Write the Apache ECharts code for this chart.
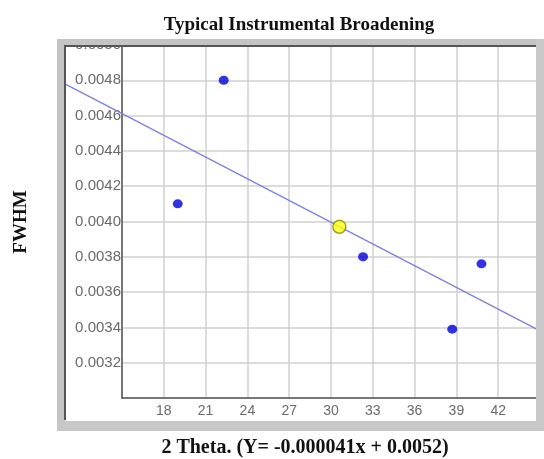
<!DOCTYPE html>
<html>
<head>
<meta charset="utf-8">
<script src="https://cdn.jsdelivr.net/npm/echarts@6/dist/echarts.min.js"></script>
<style>html,body{margin:0;padding:0;background:#fff;}#c{width:544px;height:459px;}</style>
</head>
<body>
<div id="c"></div>
<script>
// Data
const pointX = [19.0, 22.3, 32.3, 38.7, 40.8];
const pointY = [0.00410, 0.00480, 0.00380, 0.00339, 0.00376];
const meanX = [30.6];
const meanY = [0.00397];
const trendX = [10.9, 45];
const trendY = [0.00478, 0.00338];
const xTicks = { min: 15, max: 45, step: 3 };
const yTicks = { min: 0.0030, max: 0.0050, step: 0.0002 };
const titleText = 'Typical Instrumental Broadening';
const xName = '2 Theta. (Y= -0.000041x + 0.0052)';
const yName = 'FWHM';

const chart = echarts.init(document.getElementById('c'), null, { renderer: 'canvas' });
const serif = '"Liberation Serif", "Times New Roman", serif';
const sans = '"Liberation Sans", Arial, sans-serif';

const option = {
  backgroundColor: '#ffffff',
  animation: false,
  grid: { left: 122, right: 4, top: 45, bottom: 61, containLabel: false },
  xAxis: {
    type: 'value', min: xTicks.min, max: xTicks.max, interval: xTicks.step,
    axisLine: { show: true, onZero: false, lineStyle: { color: '#555', width: 1.5 } },
    axisTick: { show: false },
    axisLabel: { showMinLabel: false, showMaxLabel: false, color: '#6a6a6a', fontFamily: sans, fontSize: 14, margin: 6 },
    splitLine: { show: true, lineStyle: { color: '#d0d0d0', width: 1.5 } }
  },
  yAxis: {
    type: 'value', min: yTicks.min, max: yTicks.max, interval: yTicks.step,
    axisLine: { show: true, onZero: false, lineStyle: { color: '#555', width: 1.5 } },
    axisTick: { show: false },
    axisLabel: { showMinLabel: false, showMaxLabel: true, color: '#6a6a6a', fontFamily: sans, fontSize: 15, margin: 1,
      formatter: v => v.toFixed(4) },
    splitLine: { show: true, lineStyle: { color: '#d0d0d0', width: 1.5 } }
  },
  series: [
    {
      type: 'custom', clip: false, silent: true, z: 3,
      data: [[trendX[0], trendY[0], trendX[1], trendY[1]]],
      renderItem: (params, api) => {
        const p1 = api.coord([api.value(0), api.value(1)]);
        const p2 = api.coord([api.value(2), api.value(3)]);
        return { type: 'line', shape: { x1: p1[0], y1: p1[1], x2: p2[0], y2: p2[1] },
          style: { stroke: '#7f7fe0', lineWidth: 1.3 } };
      }
    },
    {
      type: 'scatter', data: pointX.map((x, i) => [x, pointY[i]]), symbol: 'circle', symbolSize: [10, 9],
      itemStyle: { color: '#0000e0' }, z: 4
    },
    {
      type: 'scatter', data: meanX.map((x, i) => [x, meanY[i]]), symbol: 'circle', symbolSize: 13,
      itemStyle: { color: '#ffff10', borderColor: '#8a8a00', borderWidth: 1.5 }, z: 5
    }
  ],
  graphic: [
    { type: 'rect', z: 100, shape: { x: 57, y: 39, width: 487, height: 7 }, style: { fill: '#c4c4c4' } },
    { type: 'rect', z: 100, shape: { x: 57, y: 39, width: 8, height: 392 }, style: { fill: '#c4c4c4' } },
    { type: 'rect', z: 100, shape: { x: 536, y: 39, width: 8, height: 392 }, style: { fill: '#c8c8c8' } },
    { type: 'rect', z: 100, shape: { x: 57, y: 421, width: 487, height: 10 }, style: { fill: '#c8c8c8' } },
    { type: 'line', z: 101, shape: { x1: 64, y1: 46, x2: 536, y2: 46 }, style: { stroke: '#555', lineWidth: 2 } },
    { type: 'line', z: 101, shape: { x1: 65, y1: 46, x2: 65, y2: 420 }, style: { stroke: '#555', lineWidth: 2 } },
    { type: 'text', z: 110, x: 299, y: 25, style: { text: titleText, font: 'bold 19px ' + serif, fill: '#111', textAlign: 'center', textVerticalAlign: 'middle' } },
    { type: 'text', z: 110, x: 305, y: 448, style: { text: xName, font: 'bold 20px ' + serif, fill: '#111', textAlign: 'center', textVerticalAlign: 'middle' } },
    { type: 'text', z: 110, x: 21, y: 222, rotation: Math.PI / 2, style: { text: yName, font: 'bold 19px ' + serif, fill: '#111', textAlign: 'center', textVerticalAlign: 'middle' } }
  ]
};
chart.setOption(option);
</script>
</body>
</html>
